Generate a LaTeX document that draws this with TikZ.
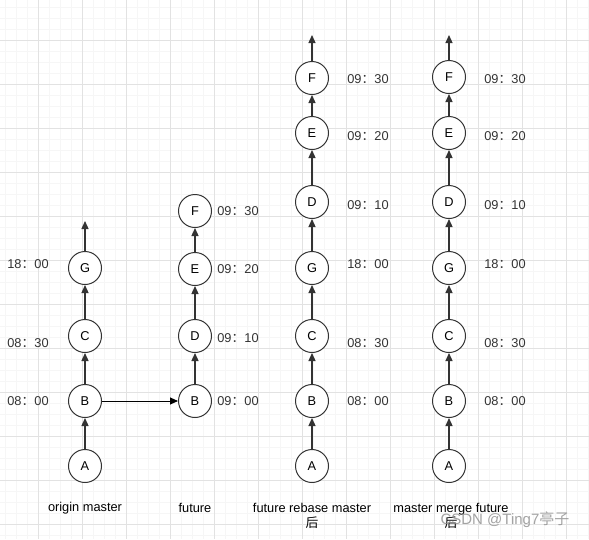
\documentclass[tikz,border=0pt]{standalone}
\usepackage{fontspec}
\setmainfont{Liberation Sans}
\newfontfamily\cjk{Noto Sans CJK SC}
\usetikzlibrary{arrows.meta}
\definecolor{minorgrid}{HTML}{F6F6F6}
\definecolor{majorgrid}{HTML}{E2E2E2}
\definecolor{ink}{HTML}{333333}
\newcommand{\tm}[2]{#1{\cjk ：}#2}
\tikzset{
  commit/.style={circle,draw=ink,line width=1pt,fill=white,minimum size=33pt,inner sep=0pt,text=black},
  edge/.style={draw=ink,line width=1.3pt,-{Triangle[length=8pt,width=7pt]}},
  link/.style={draw=black,line width=0.9pt,-{Triangle[length=8pt,width=7pt]}},
  time/.style={text=ink,inner sep=0pt},
  caption/.style={text=black,inner sep=0pt,align=center},
}
\begin{document}
\begin{tikzpicture}[x=1pt,y=-1pt,font=\fontsize{12.8}{15}\selectfont]
\useasboundingbox (0,0) rectangle (589,539);
\fill[white] (0,0) rectangle (589,539);
% grid
\foreach \k in {-3,...,50} {\draw[minorgrid,line width=0.6pt] ({38+11*\k},0) -- ({38+11*\k},539);}
\foreach \k in {-3,...,46} {\draw[minorgrid,line width=0.6pt] (0,{40.7+11*\k}) -- (589,{40.7+11*\k});}
\foreach \k in {0,...,12} {\draw[majorgrid,line width=0.9pt] ({38+44*\k},0) -- ({38+44*\k},539);}
\foreach \k in {-1,...,11} {\draw[majorgrid,line width=0.9pt] (0,{40.7+44*\k}) -- (589,{40.7+44*\k});}

% column 1: origin master
\node[commit] (a1) at (85,466) {A};
\node[commit] (b1) at (85,401) {B};
\node[commit] (c1) at (85,336) {C};
\node[commit] (g1) at (85,268) {G};
\coordinate (t1) at (85,221);
\draw[edge] (a1) -- (b1);
\draw[edge] (b1) -- (c1);
\draw[edge] (c1) -- (g1);
\draw[edge] (g1) -- (t1);
\node[time] (l1g) at (28,264) {\tm{18}{00}};
\node[time] (l1c) at (28,343) {\tm{08}{30}};
\node[time] (l1b) at (28,401) {\tm{08}{00}};
\node[caption] (cap1) at (85,508) {origin master};

% column 2: future
\node[commit] (b2) at (195,401) {B};
\node[commit] (d2) at (195,336) {D};
\node[commit] (e2) at (195,269) {E};
\node[commit] (f2) at (195,211) {F};
\draw[edge] (b2) -- (d2);
\draw[edge] (d2) -- (e2);
\draw[edge] (e2) -- (f2);
\draw[link] (b1) -- (b2);
\node[time] (l2b) at (238,401) {\tm{09}{00}};
\node[time] (l2d) at (238,338) {\tm{09}{10}};
\node[time] (l2e) at (238,269) {\tm{09}{20}};
\node[time] (l2f) at (238,211) {\tm{09}{30}};
\node[caption] (cap2) at (195,508) {future};

% column 3: future rebase master
\node[commit] (a3) at (312,466) {A};
\node[commit] (b3) at (312,401) {B};
\node[commit] (c3) at (312,336) {C};
\node[commit] (g3) at (312,268) {G};
\node[commit] (d3) at (312,202) {D};
\node[commit] (e3) at (312,133) {E};
\node[commit] (f3) at (312,78) {F};
\coordinate (t3) at (312,35);
\draw[edge] (a3) -- (b3);
\draw[edge] (b3) -- (c3);
\draw[edge] (c3) -- (g3);
\draw[edge] (g3) -- (d3);
\draw[edge] (d3) -- (e3);
\draw[edge] (e3) -- (f3);
\draw[edge] (f3) -- (t3);
\node[time] (l3f) at (368,79) {\tm{09}{30}};
\node[time] (l3e) at (368,136) {\tm{09}{20}};
\node[time] (l3d) at (368,205) {\tm{09}{10}};
\node[time] (l3g) at (368,264) {\tm{18}{00}};
\node[time] (l3c) at (368,343) {\tm{08}{30}};
\node[time] (l3b) at (368,401) {\tm{08}{00}};
\node[caption] (cap3) at (312,516) {future rebase master\\[0pt]{\cjk 后}};

% column 4: master merge future
\node[commit] (a4) at (449,466) {A};
\node[commit] (b4) at (449,401) {B};
\node[commit] (c4) at (449,336) {C};
\node[commit] (g4) at (449,268) {G};
\node[commit] (d4) at (449,202) {D};
\node[commit] (e4) at (449,133) {E};
\node[commit] (f4) at (449,77) {F};
\coordinate (t4) at (449,35);
\draw[edge] (a4) -- (b4);
\draw[edge] (b4) -- (c4);
\draw[edge] (c4) -- (g4);
\draw[edge] (g4) -- (d4);
\draw[edge] (d4) -- (e4);
\draw[edge] (e4) -- (f4);
\draw[edge] (f4) -- (t4);
\node[time] (l4f) at (505,79) {\tm{09}{30}};
\node[time] (l4e) at (505,136) {\tm{09}{20}};
\node[time] (l4d) at (505,205) {\tm{09}{10}};
\node[time] (l4g) at (505,264) {\tm{18}{00}};
\node[time] (l4c) at (505,343) {\tm{08}{30}};
\node[time] (l4b) at (505,401) {\tm{08}{00}};
\node[caption] (cap4) at (451,516) {master merge future\\[0pt]{\cjk 后}};

% watermark
\node[text=black!45,text opacity=0.8,inner sep=0pt,font=\fontsize{15}{17}\selectfont] (wm) at (505,520) {CSDN @Ting7{\cjk 亭子}};
\end{tikzpicture}
\end{document}
